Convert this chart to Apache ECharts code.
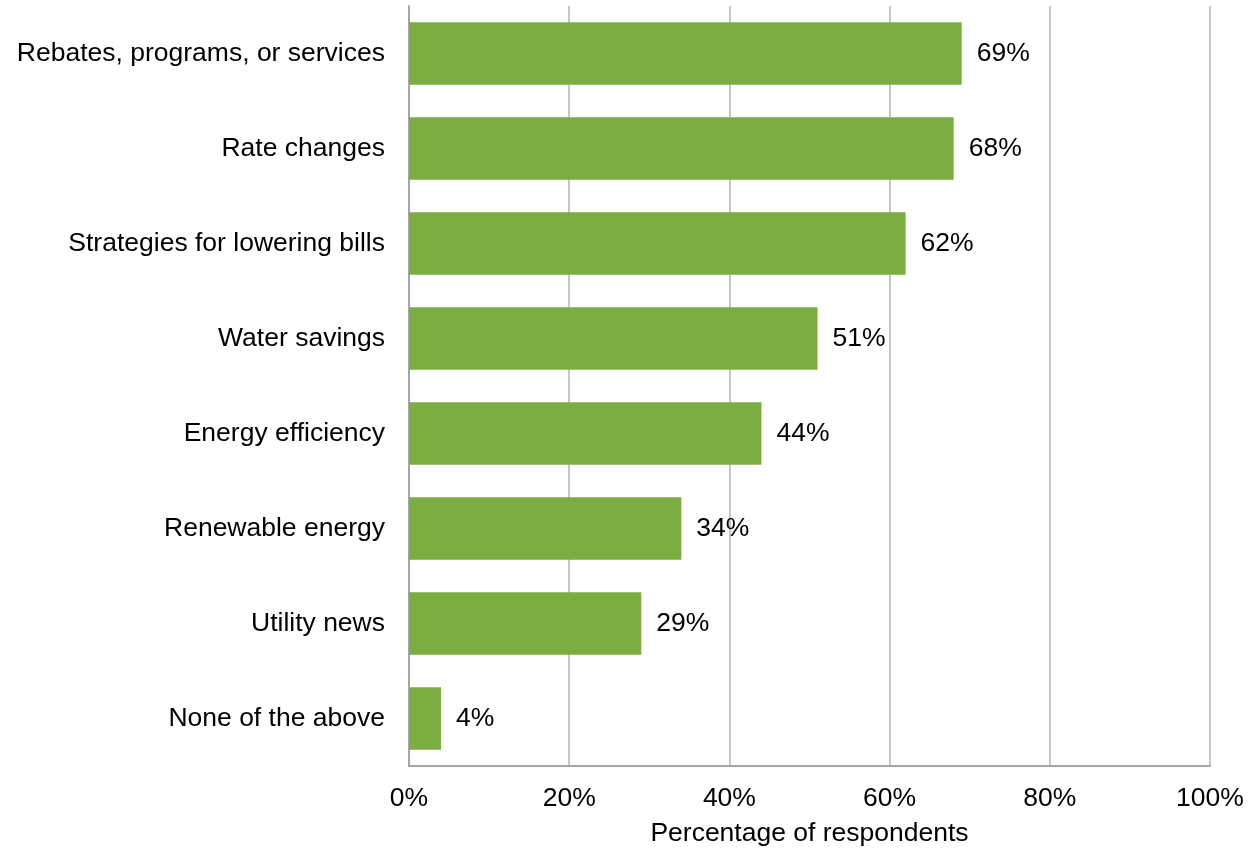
<!DOCTYPE html>
<html>
<head>
<meta charset="utf-8">
<script src="https://cdn.jsdelivr.net/npm/echarts@6/dist/echarts.min.js"></script>
<style>
  html, body { margin: 0; padding: 0; background: #fff; }
  #chart { width: 1251px; height: 852px; }
</style>
</head>
<body>
<div id="chart"></div>
<script>
// Topics respondents want to hear about, top to bottom
const categories = [
  'Rebates, programs, or services',
  'Rate changes',
  'Strategies for lowering bills',
  'Water savings',
  'Energy efficiency',
  'Renewable energy',
  'Utility news',
  'None of the above'
];
// Share of respondents (%)
const shares = [69, 68, 62, 51, 44, 34, 29, 4];
const xTicks = [0, 20, 40, 60, 80, 100];
const xAxisTitle = 'Percentage of respondents';

const font = 'Liberation Sans, Arial, sans-serif';
const fs = 26.5;
const chart = echarts.init(document.getElementById('chart'), null, { renderer: 'canvas' });

chart.setOption({
  animation: false,
  backgroundColor: '#ffffff',
  grid: { left: 409, right: 41, top: 6, bottom: 78, containLabel: false },
  xAxis: {
    type: 'value',
    min: xTicks[0],
    max: xTicks[xTicks.length - 1],
    interval: xTicks[1] - xTicks[0],
    name: xAxisTitle,
    nameLocation: 'middle',
    nameGap: 54,
    nameTextStyle: { fontFamily: font, fontSize: fs, color: '#000' },
    axisLine: { show: true, lineStyle: { color: '#a6a6a6', width: 2 } },
    axisTick: { show: false },
    splitLine: { show: true, lineStyle: { color: '#c6c6c6', width: 2 } },
    axisLabel: {
      formatter: v => v + '%',
      fontFamily: font, fontSize: fs, color: '#000', margin: 19
    }
  },
  yAxis: {
    type: 'category',
    data: categories,
    inverse: true,
    axisLine: { show: true, lineStyle: { color: '#a6a6a6', width: 2 } },
    axisTick: { show: false },
    axisLabel: { fontFamily: font, fontSize: fs, color: '#000', margin: 24 }
  },
  series: [{
    type: 'bar',
    data: shares,
    barCategoryGap: '34%',
    itemStyle: { color: '#7bad42' },
    label: {
      show: true,
      position: 'right',
      distance: 15,
      formatter: p => p.value + '%',
      fontFamily: font, fontSize: fs, color: '#000'
    }
  }]
});
</script>
</body>
</html>
